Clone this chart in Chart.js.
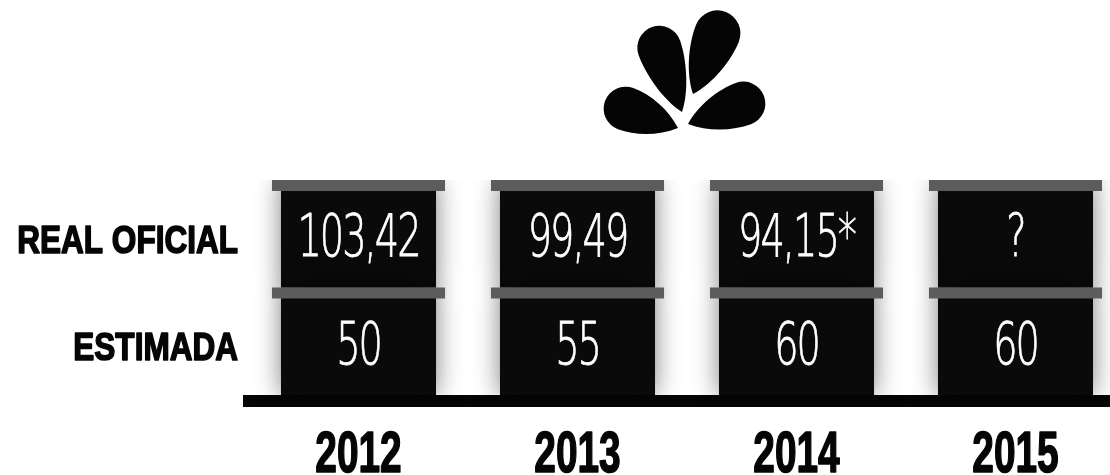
<!DOCTYPE html>
<html>
<head>
<meta charset="utf-8">
<script src="https://cdn.jsdelivr.net/npm/chart.js@4"></script>
<style>
	html, body { margin: 0; padding: 0; background: #fff; overflow: hidden; width: 1110px; height: 475px; }
	canvas { display: block; }
</style>
</head>
<body>
<canvas id="myChart_barrels" width="1125" height="475"></canvas>
<script>
// data
const years = ['2012', '2013', '2014', '2015'];
const rowLabels = ['REAL OFICIAL', 'ESTIMADA'];
const realOficial = [103.42, 99.49, 94.15, null];
const realNotes = ['', '', '*', ''];
const estimada = [50, 55, 60, 60];
// every barrel segment has the same height, one unit per row
const barrelUnits = [1, 1, 1, 1];

const fmt = (v, note) => v === null ? '?' : v.toString().replace('.', ',') + note;

// condensed heavy text, squeezed horizontally
function heavyText(ctx, text, x, y, size, squeeze, align) {
	ctx.save();
	ctx.translate(x, y);
	ctx.scale(squeeze, 1);
	ctx.font = 'bold ' + size + 'px "Liberation Sans", Arial, sans-serif';
	ctx.textAlign = align;
	ctx.textBaseline = 'alphabetic';
	ctx.fillStyle = '#050505';
	ctx.strokeStyle = '#050505';
	ctx.lineWidth = 1.6;
	ctx.lineJoin = 'round';
	ctx.fillText(text, 0, 0);
	ctx.strokeText(text, 0, 0);
	ctx.restore();
}

// one drop: tip at (tx,ty), far end at (fx,fy), radius r
function drop(ctx, tx, ty, fx, fy, r) {
	const L = Math.hypot(fx - tx, fy - ty);
	const a = Math.atan2(fy - ty, fx - tx);
	const c = L - r;
	ctx.save();
	ctx.translate(tx, ty);
	ctx.rotate(a);
	ctx.beginPath();
	ctx.moveTo(0, 0);
	ctx.bezierCurveTo(L * 0.2, -r * 0.65, c - r * 0.85, -r, c, -r);
	ctx.arc(c, 0, r, -Math.PI / 2, Math.PI / 2);
	ctx.bezierCurveTo(c - r * 0.85, r, L * 0.2, r * 0.65, 0, 0);
	ctx.closePath();
	ctx.fill();
	ctx.restore();
}

const barrelPlugin = {
	id: 'barrels',
	beforeDatasetsDraw(chart) {
		const ctx = chart.ctx;
		ctx.save();
		ctx.shadowColor = 'rgba(0,0,0,0.5)';
		ctx.shadowBlur = 24;
	},
	afterDatasetsDraw(chart) {
		const ctx = chart.ctx;
		ctx.restore();
		ctx.save();
		chart.data.datasets.forEach((ds, di) => {
			const meta = chart.getDatasetMeta(di);
			meta.data.forEach((bar, i) => {
				const half = bar.width / 2;
				// rim
				ctx.fillStyle = '#5c5c5e';
				ctx.fillRect(bar.x - half - 9, bar.y, bar.width + 18, 11);
				// number
				const cy = bar.y + 11 + (bar.base - bar.y - 11) / 2;
				ctx.save();
				ctx.translate(bar.x, cy);
				ctx.scale(0.66, 1);
				ctx.fillStyle = '#fff';
				ctx.strokeStyle = '#fff';
				ctx.lineWidth = 0.8;
				ctx.font = '200 58px "DejaVu Sans"';
				ctx.letterSpacing = '-3px';
				ctx.textAlign = 'center';
				ctx.textBaseline = 'middle';
				ctx.fillText(ds.texts[i], 0, 2);
				ctx.strokeText(ds.texts[i], 0, 2);
				ctx.restore();
			});
		});
		ctx.restore();
	},
	afterDraw(chart) {
		const ctx = chart.ctx;
		const xs = chart.scales.x;
		const ys = chart.scales.y;
		// row labels
		ys.ticks.forEach((t) => {
			const label = t.value > 1 ? rowLabels[0] : rowLabels[1];
			heavyText(ctx, label, chart.chartArea.left - 11, ys.getPixelForValue(t.value) + 13.5, 38, 0.83, 'right');
		});
		// year labels
		years.forEach((y, i) => {
			heavyText(ctx, y, xs.getPixelForTick(i), 472, 58, 0.67, 'center');
		});
		// logo
		ctx.save();
		ctx.fillStyle = '#050505';
		drop(ctx, 678, 128, 605, 101, 22);
		drop(ctx, 682, 112, 652, 27, 22);
		drop(ctx, 693, 94, 726, 12, 23);
		drop(ctx, 688, 124, 764, 96, 22);
		ctx.restore();
	}
};

const ctx = document.getElementById('myChart_barrels').getContext('2d');
const myChart_barrels = new Chart(ctx, {
	type: 'bar',
	data: {
		labels: years,
		datasets: [{
			label: 'Estimada',
			data: barrelUnits,
			texts: estimada.map(v => fmt(v, '')),
			backgroundColor: '#0a0a0a',
			borderWidth: 0,
			barPercentage: 0.708,
			categoryPercentage: 1,
		}, {
			label: 'Real oficial',
			data: barrelUnits,
			texts: realOficial.map((v, i) => fmt(v, realNotes[i])),
			backgroundColor: '#0a0a0a',
			borderWidth: 0,
			barPercentage: 0.708,
			categoryPercentage: 1,
		}]
	},
	options: {
		responsive: false,
		animation: false,
		layout: {
			padding: { top: 180, right: 0, left: 0, bottom: 0 }
		},
		scales: {
			x: {
				stacked: true,
				grid: { display: false, drawTicks: false },
				border: { display: true, color: '#050505', width: 12 },
				afterFit: (scale) => { scale.height = 74; },
				ticks: { display: false }
			},
			y: {
				stacked: true,
				min: -0.056,
				max: 2,
				grid: { display: false, drawTicks: false },
				border: { display: false },
				afterFit: (scale) => { scale.width = 249; },
				afterBuildTicks: (scale) => {
					scale.ticks = [{ value: 0.45 }, { value: 1.45 }];
				},
				ticks: { display: false }
			}
		},
		plugins: {
			legend: { display: false },
			tooltip: { enabled: false },
			title: { display: false }
		}
	},
	plugins: [barrelPlugin]
});
</script>
</body>
</html>
